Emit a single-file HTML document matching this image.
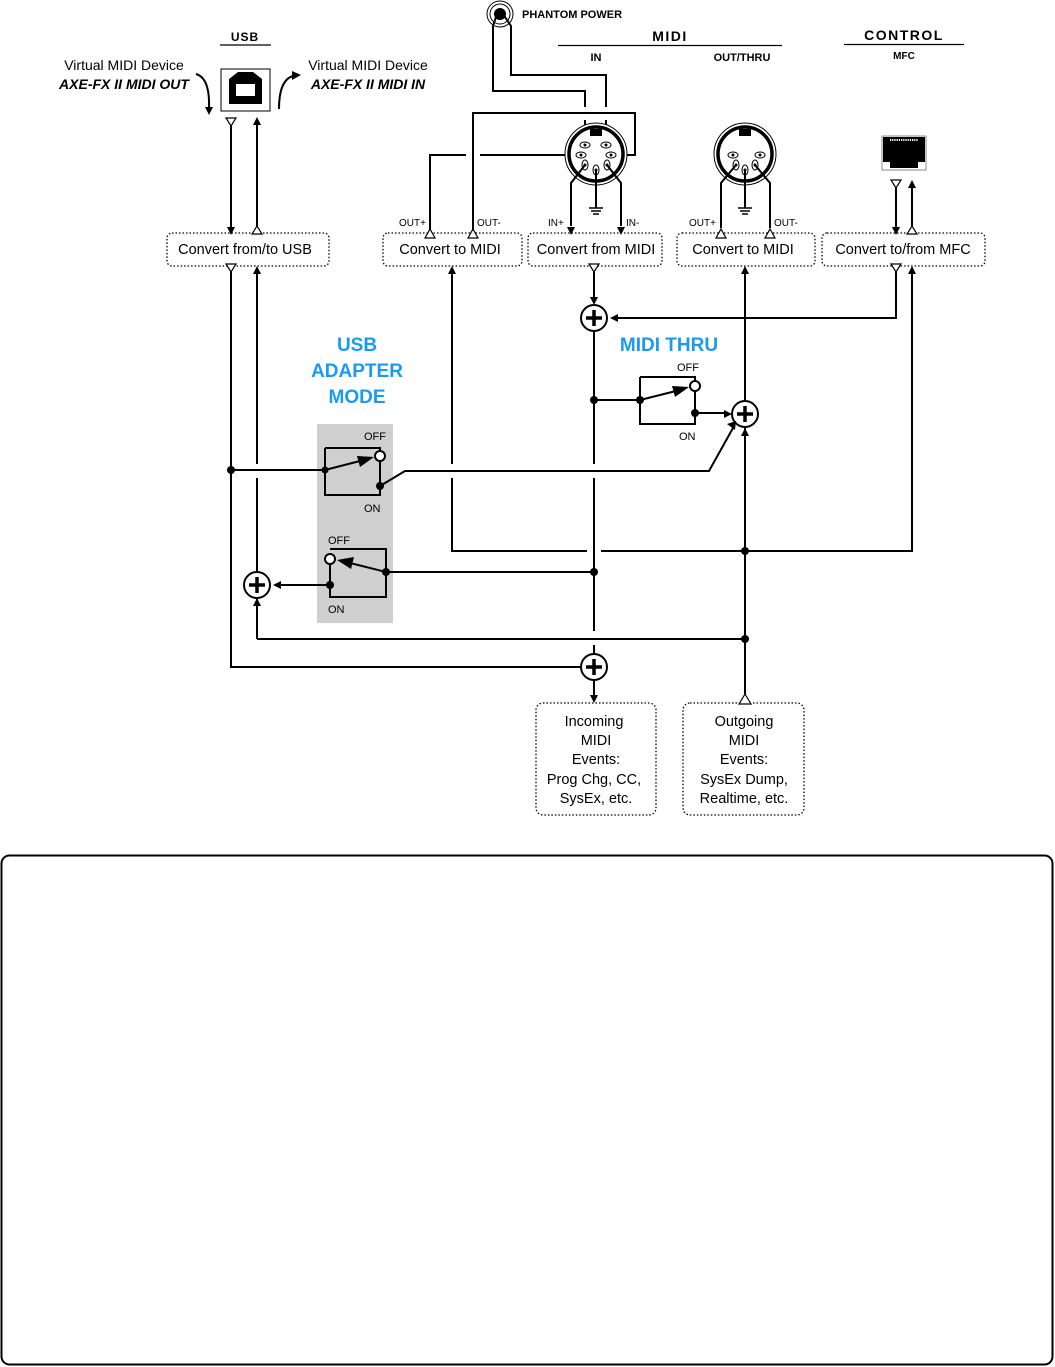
<!DOCTYPE html>
<html><head><meta charset="utf-8"><style>
html,body{margin:0;padding:0;background:#fff}
svg{display:block}
text{font-family:"Liberation Sans","DejaVu Sans",sans-serif}
</style></head><body>
<svg width="1055" height="1367" viewBox="0 0 1055 1367" xmlns="http://www.w3.org/2000/svg">
<defs>
<g id="plus"><circle r="13" fill="#fff" stroke="#000" stroke-width="2"/><path d="M-8 0H8M0-8V8" stroke="#000" stroke-width="3.5"/></g>
</defs>
<rect x="1.5" y="855.5" width="1051" height="509" rx="8" fill="#fff" stroke="#000" stroke-width="2"/>

<rect x="317" y="424" width="76" height="199" fill="#cfcfcf"/>

<g font-weight="bold" fill="#000">
<text x="245" y="41" font-size="12" text-anchor="middle" letter-spacing="1">USB</text>
<text x="670" y="41" font-size="14" text-anchor="middle" letter-spacing="1.5">MIDI</text>
<text x="596" y="61" font-size="11" text-anchor="middle">IN</text>
<text x="742" y="61" font-size="11" text-anchor="middle">OUT/THRU</text>
<text x="904" y="40" font-size="14" text-anchor="middle" letter-spacing="1.5">CONTROL</text>
<text x="904" y="59" font-size="10" text-anchor="middle">MFC</text>
<text x="522" y="18" font-size="11">PHANTOM POWER</text>
</g>
<g stroke="#000" stroke-width="1.3">
<line x1="220" y1="45" x2="271" y2="45"/>
<line x1="558" y1="45.5" x2="782" y2="45.5"/>
<line x1="844" y1="44.5" x2="964" y2="44.5"/>
</g>

<text x="124" y="70" font-size="14" text-anchor="middle">Virtual MIDI Device</text>
<text x="124" y="89" font-size="14" text-anchor="middle" font-weight="bold" font-style="italic">AXE-FX II MIDI OUT</text>
<text x="368" y="70" font-size="14" text-anchor="middle">Virtual MIDI Device</text>
<text x="368" y="89" font-size="14" text-anchor="middle" font-weight="bold" font-style="italic">AXE-FX II MIDI IN</text>

<rect x="221" y="69" width="49" height="42" fill="#fff" stroke="#000" stroke-width="1"/>
<path d="M229 79 L238 72 L253 72 L262 79 V104 H229 Z" fill="#000"/>
<rect x="236" y="84" width="19" height="12" fill="#fff"/>
<path d="M196 74 Q210 78 209 108" fill="none" stroke="#000" stroke-width="2"/>
<polygon points="205,107 213,107 209,115" fill="#000"/>
<path d="M279 109 Q279 80 293 76" fill="none" stroke="#000" stroke-width="2"/>
<polygon points="292,71 301,75 292,80" fill="#000"/>

<rect x="882" y="136" width="44" height="34" fill="#fff" stroke="#888" stroke-width="1"/>
<path d="M883 137 H925 V162 H918 V168 H890 V162 H883 Z" fill="#000"/>
<path d="M890 140 H918" stroke="#fff" stroke-width="2" stroke-dasharray="1.2 1"/>

<circle cx="500" cy="14" r="13" fill="#fff" stroke="#000" stroke-width="1"/>
<circle cx="500" cy="14" r="10" fill="none" stroke="#000" stroke-width="1"/>
<circle cx="500" cy="14" r="6" fill="#000"/>

<g fill="none" stroke="#000" stroke-width="2">
<path d="M497 14 L493 26 V91 H585 V107"/>
<path d="M503 14 L511 26 V75 H606 V107"/>
<path d="M585 120 V147 M606 120 V147"/>
<path d="M473 233 V113 H635 V155 H610"/>
<path d="M430 233 V155 H466 M480 155 H583"/>
</g>

<circle cx="596" cy="154" r="31" fill="#fff" stroke="#000" stroke-width="1"/>
<circle cx="596" cy="154" r="27" fill="none" stroke="#000" stroke-width="3.5"/>
<rect x="590" y="129" width="12" height="7" fill="#000"/>
<circle cx="745" cy="154" r="31" fill="#fff" stroke="#000" stroke-width="1"/>
<circle cx="745" cy="154" r="27" fill="none" stroke="#000" stroke-width="3.5"/>
<rect x="739" y="129" width="12" height="7" fill="#000"/>
<g fill="#fff" stroke="#000" stroke-width="1">
<ellipse cx="585" cy="145" rx="5" ry="3"/><ellipse cx="606" cy="145" rx="5" ry="3"/>
<ellipse cx="581" cy="155" rx="5" ry="3"/><ellipse cx="611" cy="155" rx="5" ry="3"/>
<ellipse cx="585" cy="165" rx="3" ry="5"/><ellipse cx="596" cy="170" rx="3" ry="5"/><ellipse cx="607" cy="165" rx="3" ry="5"/>
<ellipse cx="733" cy="155" rx="5" ry="3"/><ellipse cx="760" cy="155" rx="5" ry="3"/>
<ellipse cx="736" cy="165" rx="3" ry="5"/><ellipse cx="745" cy="170" rx="3" ry="5"/><ellipse cx="755" cy="165" rx="3" ry="5"/>
</g>
<g fill="#000"><circle cx="585" cy="145" r="1.5"/><circle cx="606" cy="145" r="1.5"/><circle cx="581" cy="155" r="1.5"/><circle cx="611" cy="155" r="1.5"/><circle cx="585" cy="165" r="1.5"/><circle cx="596" cy="170" r="1.5"/><circle cx="607" cy="165" r="1.5"/><circle cx="733" cy="155" r="1.5"/><circle cx="760" cy="155" r="1.5"/><circle cx="736" cy="165" r="1.5"/><circle cx="745" cy="170" r="1.5"/><circle cx="755" cy="165" r="1.5"/></g>
<g fill="none" stroke="#000" stroke-width="2">
<path d="M585 165 L571 183 V226 M607 165 L621 183 V226 M596 170 V208"/>
<path d="M736 165 L721 183 V228 M755 165 L770 183 V228 M745 170 V208"/>
<path d="M589 208 H603 M591 211 H601 M593 214 H599 M738 208 H752 M740 211 H750 M742 214 H748" stroke-width="1.5"/>
</g>

<g font-size="10">
<text x="399" y="226">OUT+</text><text x="477" y="226">OUT-</text>
<text x="548" y="226">IN+</text><text x="626" y="226">IN-</text>
<text x="689" y="226">OUT+</text><text x="774" y="226">OUT-</text>
</g>

<g fill="#fff" stroke="#000" stroke-width="1.3" stroke-dasharray="1.5 2">
<rect x="167" y="233" width="162" height="33" rx="5"/>
<rect x="383" y="233" width="139" height="33" rx="5"/>
<rect x="528" y="233" width="134" height="33" rx="5"/>
<rect x="677" y="233" width="138" height="33" rx="5"/>
<rect x="822" y="233" width="163" height="33" rx="5"/>
<rect x="536" y="703" width="120" height="112" rx="7"/>
<rect x="683" y="703" width="121" height="112" rx="7"/>
</g>
<g font-size="14.5" text-anchor="middle">
<text x="245" y="254">Convert from/to USB</text>
<text x="450" y="254">Convert to MIDI</text>
<text x="596" y="254">Convert from MIDI</text>
<text x="743" y="254">Convert to MIDI</text>
<text x="903" y="254">Convert to/from MFC</text>
<text x="594" y="726">Incoming</text><text x="596" y="745">MIDI</text><text x="596" y="764">Events:</text><text x="594" y="784">Prog Chg, CC,</text><text x="596" y="803">SysEx, etc.</text>
<text x="744" y="726">Outgoing</text><text x="744" y="745">MIDI</text><text x="744" y="764">Events:</text><text x="744" y="784">SysEx Dump,</text><text x="744" y="803">Realtime, etc.</text>
</g>

<g fill="#1a9bf0" font-weight="bold" font-size="19" text-anchor="middle">
<text x="357" y="351">USB</text><text x="357" y="377">ADAPTER</text><text x="357" y="403">MODE</text>
<text x="669" y="351">MIDI THRU</text>
</g>

<g fill="none" stroke="#000" stroke-width="2">
<path d="M231 126 V228 M257 124 V226"/>
<path d="M896 188 V228 M912 186 V226"/>
<path d="M231 272 V667 H581"/>
<path d="M257 272 V464 M257 478 V572"/>
<path d="M257 639 V598"/>
<path d="M257 639 H745"/>
<path d="M452 272 V464 M452 478 V551 H587 M601 551 H912 V272"/>
<path d="M594 272 V303 M594 331 V464 M594 478 V631 M594 645 V654 M594 680 V696"/>
<path d="M896 272 V318 H617"/>
<path d="M745 272 V400 M745 428 V694"/>
<path d="M594 400 H640 M640 377 H695 V381 M695 391 V413 M640 377 V424 H695 V413 M695 413 H727"/>
<path d="M231 470 H325 M325 448 H380 V451 M325 448 V495 H380 V486 M380 461 V486"/>
<path d="M380 486 L405 471 H709 L733 428"/>
<path d="M330 549 H386 V597 H330 V585 M330 564 V585 M386 572 H594"/>
<path d="M330 585 H275"/>
</g>
<g stroke="#000" stroke-width="2">
<line x1="640" y1="400" x2="676" y2="391"/>
<line x1="325" y1="470" x2="360" y2="461"/>
<line x1="386" y1="572" x2="350" y2="563"/>
</g>
<g fill="#000">
<polygon points="689,387 672,386 675,397"/>
<polygon points="374,457 357,456 360,467"/>
<polygon points="337,560 354,557 351,569"/>
</g>
<g fill="#fff" stroke="#000" stroke-width="2">
<circle cx="695" cy="386" r="5"/><circle cx="380" cy="456" r="5"/><circle cx="330" cy="559" r="5"/>
</g>
<g fill="#000">
<circle cx="594" cy="400" r="4"/><circle cx="640" cy="400" r="4"/><circle cx="695" cy="413" r="4"/>
<circle cx="231" cy="470" r="4"/><circle cx="325" cy="470" r="3.5"/><circle cx="380" cy="486" r="4"/>
<circle cx="386" cy="572" r="4"/><circle cx="330" cy="585" r="4"/><circle cx="594" cy="572" r="4"/>
<circle cx="745" cy="551" r="4"/><circle cx="745" cy="639" r="4"/>
</g>
<use href="#plus" x="594" y="318"/>
<use href="#plus" x="745" y="414"/>
<use href="#plus" x="257" y="585"/>
<use href="#plus" x="594" y="667"/>

<g fill="#000">
<polygon points="227,227 235,227 231,235"/>
<polygon points="253,125 261,125 257,117"/>
<polygon points="892,227 900,227 896,235"/>
<polygon points="908,188 916,188 912,180"/>
<polygon points="567,227 575,227 571,235"/>
<polygon points="617,227 625,227 621,235"/>
<polygon points="253,274 261,274 257,266"/>
<polygon points="448,274 456,274 452,266"/>
<polygon points="741,274 749,274 745,266"/>
<polygon points="908,274 916,274 912,266"/>
<polygon points="590,297 598,297 594,305"/>
<polygon points="618,314 618,322 610,318"/>
<polygon points="724,410 724,418 732,414"/>
<polygon points="741,436 749,436 745,428"/>
<polygon points="727,424 735,430 736,421"/>
<polygon points="281,581 281,589 273,585"/>
<polygon points="253,606 261,606 257,598"/>
<polygon points="590,695 598,695 594,703"/>
</g>
<g fill="#fff" stroke="#000" stroke-width="1.2">
<polygon points="226,118 236,118 231,126"/>
<polygon points="252,234 262,234 257,226"/>
<polygon points="891,180 901,180 896,188"/>
<polygon points="907,234 917,234 912,226"/>
<polygon points="425,238 435,238 430,229"/>
<polygon points="468,238 478,238 473,229"/>
<polygon points="716,238 726,238 721,229"/>
<polygon points="765,238 775,238 770,229"/>
<polygon points="226,264 236,264 231,272"/>
<polygon points="589,264 599,264 594,272"/>
<polygon points="891,264 901,264 896,272"/>
<polygon points="739,704 751,704 745,694"/>
</g>
<g font-size="11">
<text x="677" y="371">OFF</text><text x="679" y="440">ON</text>
<text x="364" y="440">OFF</text><text x="364" y="512">ON</text>
<text x="328" y="544">OFF</text><text x="328" y="613">ON</text>
</g>
</svg>
</body></html>
